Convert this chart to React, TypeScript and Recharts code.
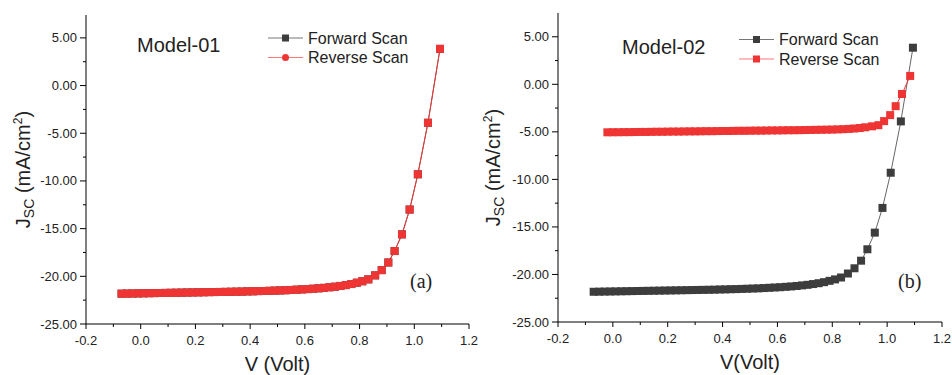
import React from "react";
import { LineChart, Line, XAxis, YAxis, Label } from "recharts";

// J-V data (V in volt, J in mA/cm2)
const forwardV = [
  -0.07, -0.05, -0.03, -0.01, 0.01, 0.03, 0.05, 0.07, 0.09, 0.11, 0.13, 0.15, 0.17, 0.19,
  0.21, 0.23, 0.25, 0.27, 0.29, 0.31, 0.33, 0.35, 0.37, 0.39, 0.41, 0.43, 0.45, 0.47, 0.49,
  0.51, 0.53, 0.55, 0.57, 0.59, 0.61, 0.63, 0.65, 0.67, 0.69, 0.71, 0.73, 0.75, 0.77, 0.79,
  0.81, 0.832, 0.857, 0.881, 0.905, 0.928, 0.955, 0.983, 1.013, 1.05, 1.094,
];
const forwardJ = [
  -21.82, -21.81, -21.8, -21.79, -21.78, -21.77, -21.76, -21.75, -21.74, -21.73, -21.72, -21.71, -21.7, -21.69,
  -21.68, -21.67, -21.66, -21.65, -21.64, -21.63, -21.62, -21.61, -21.6, -21.58, -21.57, -21.55, -21.54, -21.52, -21.5,
  -21.48, -21.46, -21.43, -21.4, -21.37, -21.34, -21.3, -21.26, -21.21, -21.15, -21.09, -21.01, -20.92, -20.81, -20.67,
  -20.52, -20.32, -19.9, -19.35, -18.55, -17.35, -15.6, -13.0, -9.3, -3.9, 3.85,
];

// Model-02 reverse scan
const reverseV = [
  -0.02, 0.0, 0.02, 0.04, 0.06, 0.08, 0.1, 0.12, 0.14, 0.16, 0.18, 0.2, 0.22, 0.24, 0.26,
  0.28, 0.3, 0.32, 0.34, 0.36, 0.38, 0.4, 0.42, 0.44, 0.46, 0.48, 0.5, 0.52, 0.54, 0.56,
  0.58, 0.6, 0.62, 0.64, 0.66, 0.68, 0.7, 0.72, 0.74, 0.76, 0.78, 0.8, 0.82, 0.84, 0.86,
  0.88, 0.9, 0.92, 0.945, 0.968, 0.989, 1.011, 1.031, 1.054, 1.084,
];
const reverseJ = [
  -5.05, -5.04, -5.04, -5.03, -5.03, -5.02, -5.01, -5.01, -5.0, -4.99, -4.99, -4.98, -4.97, -4.97, -4.96,
  -4.95, -4.95, -4.94, -4.93, -4.93, -4.92, -4.91, -4.91, -4.9, -4.89, -4.89, -4.88, -4.87, -4.87, -4.86,
  -4.85, -4.85, -4.84, -4.83, -4.83, -4.82, -4.81, -4.8, -4.79, -4.78, -4.77, -4.76, -4.74, -4.72, -4.69,
  -4.65, -4.6, -4.52, -4.42, -4.3, -3.87, -3.24, -2.3, -1.02, 0.88,
];

const xTicks = [-0.2, -0.1, 0, 0.1, 0.2, 0.3, 0.4, 0.5, 0.6, 0.7, 0.8, 0.9, 1.0, 1.1, 1.2];
const yTicks = [-25, -22.5, -20, -17.5, -15, -12.5, -10, -7.5, -5, -2.5, 0, 2.5, 5];

const forwardData = forwardV.map((v, i) => ({ v, j: forwardJ[i] }));
const reverseData = reverseV.map((v, i) => ({ v, j: reverseJ[i] }));

const RED = "#ef3434";
const DARK = "#3d3d3d";

const square = (fill: string) => (p: any) => (
  <rect key={p.index} x={p.cx - 4} y={p.cy - 4} width={8} height={8} fill={fill} />
);

const YTick = (props: any) => {
  const { x, y, payload } = props;
  const major = Math.abs(payload.value % 5) < 1e-6;
  const ax = x + 9;
  return (
    <g>
      <line x1={ax - (major ? 6 : 3)} x2={ax} y1={y} y2={y} stroke="#000" />
      {major && (
        <text x={ax - 9} y={y} dy={4.5} textAnchor="end" fontSize={13} fill="#222">
          {payload.value.toFixed(2)}
        </text>
      )}
    </g>
  );
};

const XTick = (props: any) => {
  const { x, y, payload } = props;
  const major = Math.round(payload.value * 10) % 2 === 0;
  const ay = y - 9;
  return (
    <g>
      <line x1={x} x2={x} y1={ay} y2={ay + (major ? 5 : 3)} stroke="#000" />
      {major && (
        <text x={x} y={ay + 21} textAnchor="middle" fontSize={13} fill="#222">
          {payload.value.toFixed(1)}
        </text>
      )}
    </g>
  );
};

const YTitle = (left: number) => (props: any) => {
  const vb = props.viewBox;
  const cx = vb.x + left;
  const cy = vb.y + vb.height / 2;
  return (
    <text transform={`translate(${cx},${cy}) rotate(-90)`} textAnchor="middle" fontSize={20} fill="#222" dy={7}>
      J<tspan fontSize={14} dy={4}>SC</tspan>
      <tspan dy={-4}> (mA/cm</tspan>
      <tspan fontSize={12} dy={-8}>2</tspan>
      <tspan dy={8}>)</tspan>
    </text>
  );
};

const XTitle = (text: string) => (props: any) => {
  const vb = props.viewBox;
  return (
    <text x={vb.x + vb.width / 2} y={vb.y + 47} textAnchor="middle" fontSize={20} fill="#222">
      {text}
    </text>
  );
};

interface PanelProps {
  width: number;
  top: number;
  right: number;
  yWidth: number;
  xHeight: number;
  yMax: number;
  model: string;
  modelX: number;
  modelY: number;
  tag: string;
  tagX: number;
  xTitle: string;
  yTitleX: number;
  legendX: number;
  legendY: number;
  reverse: { v: number; j: number }[];
  legendCircle: boolean;
}

function Panel(p: PanelProps) {
  const rows = [
    { name: "Forward Scan", line: "#777", mark: DARK, circle: false },
    { name: "Reverse Scan", line: "#f77", mark: RED, circle: p.legendCircle },
  ];
  return (
    <div style={{ position: "relative", width: p.width, height: 375 }}>
      <LineChart width={p.width} height={375} margin={{ top: p.top, right: p.right, left: 0, bottom: 0 }}>
        <XAxis
          dataKey="v"
          type="number"
          domain={[-0.2, 1.2]}
          ticks={xTicks}
          interval={0}
          tick={<XTick />}
          tickLine={false}
          tickSize={6}
          tickMargin={3}
          height={p.xHeight}
          axisLine={{ stroke: "#000" }}
          allowDataOverflow
        >
          <Label content={XTitle(p.xTitle)} />
        </XAxis>
        <XAxis xAxisId="top" orientation="top" type="number" domain={[-0.2, 1.2]} tick={false} tickLine={false} height={0} axisLine={{ stroke: "#000" }} />
        <YAxis
          type="number"
          domain={[-25, p.yMax]}
          ticks={yTicks}
          interval={0}
          tick={<YTick />}
          tickLine={false}
          tickSize={6}
          tickMargin={3}
          width={p.yWidth}
          axisLine={{ stroke: "#000" }}
          allowDataOverflow
        >
          <Label content={YTitle(p.yTitleX)} />
        </YAxis>
        <YAxis yAxisId="right" orientation="right" type="number" domain={[-25, p.yMax]} tick={false} tickLine={false} width={0} axisLine={{ stroke: "#000" }} />
        <Line data={forwardData} dataKey="j" stroke="#666" strokeWidth={1} dot={square(DARK)} activeDot={false} isAnimationActive={false} />
        <Line data={p.reverse} dataKey="j" stroke={RED} strokeWidth={1} dot={square(RED)} activeDot={false} isAnimationActive={false} />
      </LineChart>
      <svg width={p.width} height={375} style={{ position: "absolute", left: 0, top: 0, pointerEvents: "none" }}>
        <text x={p.modelX} y={p.modelY} fontSize={20} fill="#222">{p.model}</text>
        <text x={p.tagX} y={288} fontSize={20} fill="#222" fontFamily="'Liberation Serif', 'Times New Roman', serif">{p.tag}</text>
        {rows.map((r, i) => {
          const cy = p.legendY + i * 19.5;
          return (
            <g key={r.name}>
              <line x1={p.legendX} x2={p.legendX + 35} y1={cy} y2={cy} stroke={r.line} strokeWidth={1} />
              {r.circle ? (
                <circle cx={p.legendX + 17.5} cy={cy} r={3.5} fill={r.mark} />
              ) : (
                <rect x={p.legendX + 14} y={cy - 3.5} width={7} height={7} fill={r.mark} />
              )}
              <text x={p.legendX + 40} y={cy + 5.5} fontSize={16} fill="#222">{r.name}</text>
            </g>
          );
        })}
      </svg>
    </div>
  );
}

export default function App() {
  return (
    <div
      style={{
        position: "absolute",
        left: 0,
        top: 0,
        width: 952,
        height: 375,
        display: "flex",
        background: "#fff",
        fontFamily: "'Liberation Sans', Arial, sans-serif",
      }}
    >
      <Panel
        width={480} top={15} right={11} yWidth={86} xHeight={51} yMax={7.4}
        model="Model-01" modelX={137} modelY={51.5}
        tag="(a)" tagX={410} xTitle="V (Volt)" yTitleX={23}
        legendX={268} legendY={38} reverse={forwardData} legendCircle
      />
      <Panel
        width={472} top={13} right={10} yWidth={78} xHeight={53} yMax={7.5}
        model="Model-02" modelX={142} modelY={54}
        tag="(b)" tagX={418} xTitle="V(Volt)" yTitleX={13}
        legendX={259} legendY={39.5} reverse={reverseData} legendCircle={false}
      />
    </div>
  );
}
